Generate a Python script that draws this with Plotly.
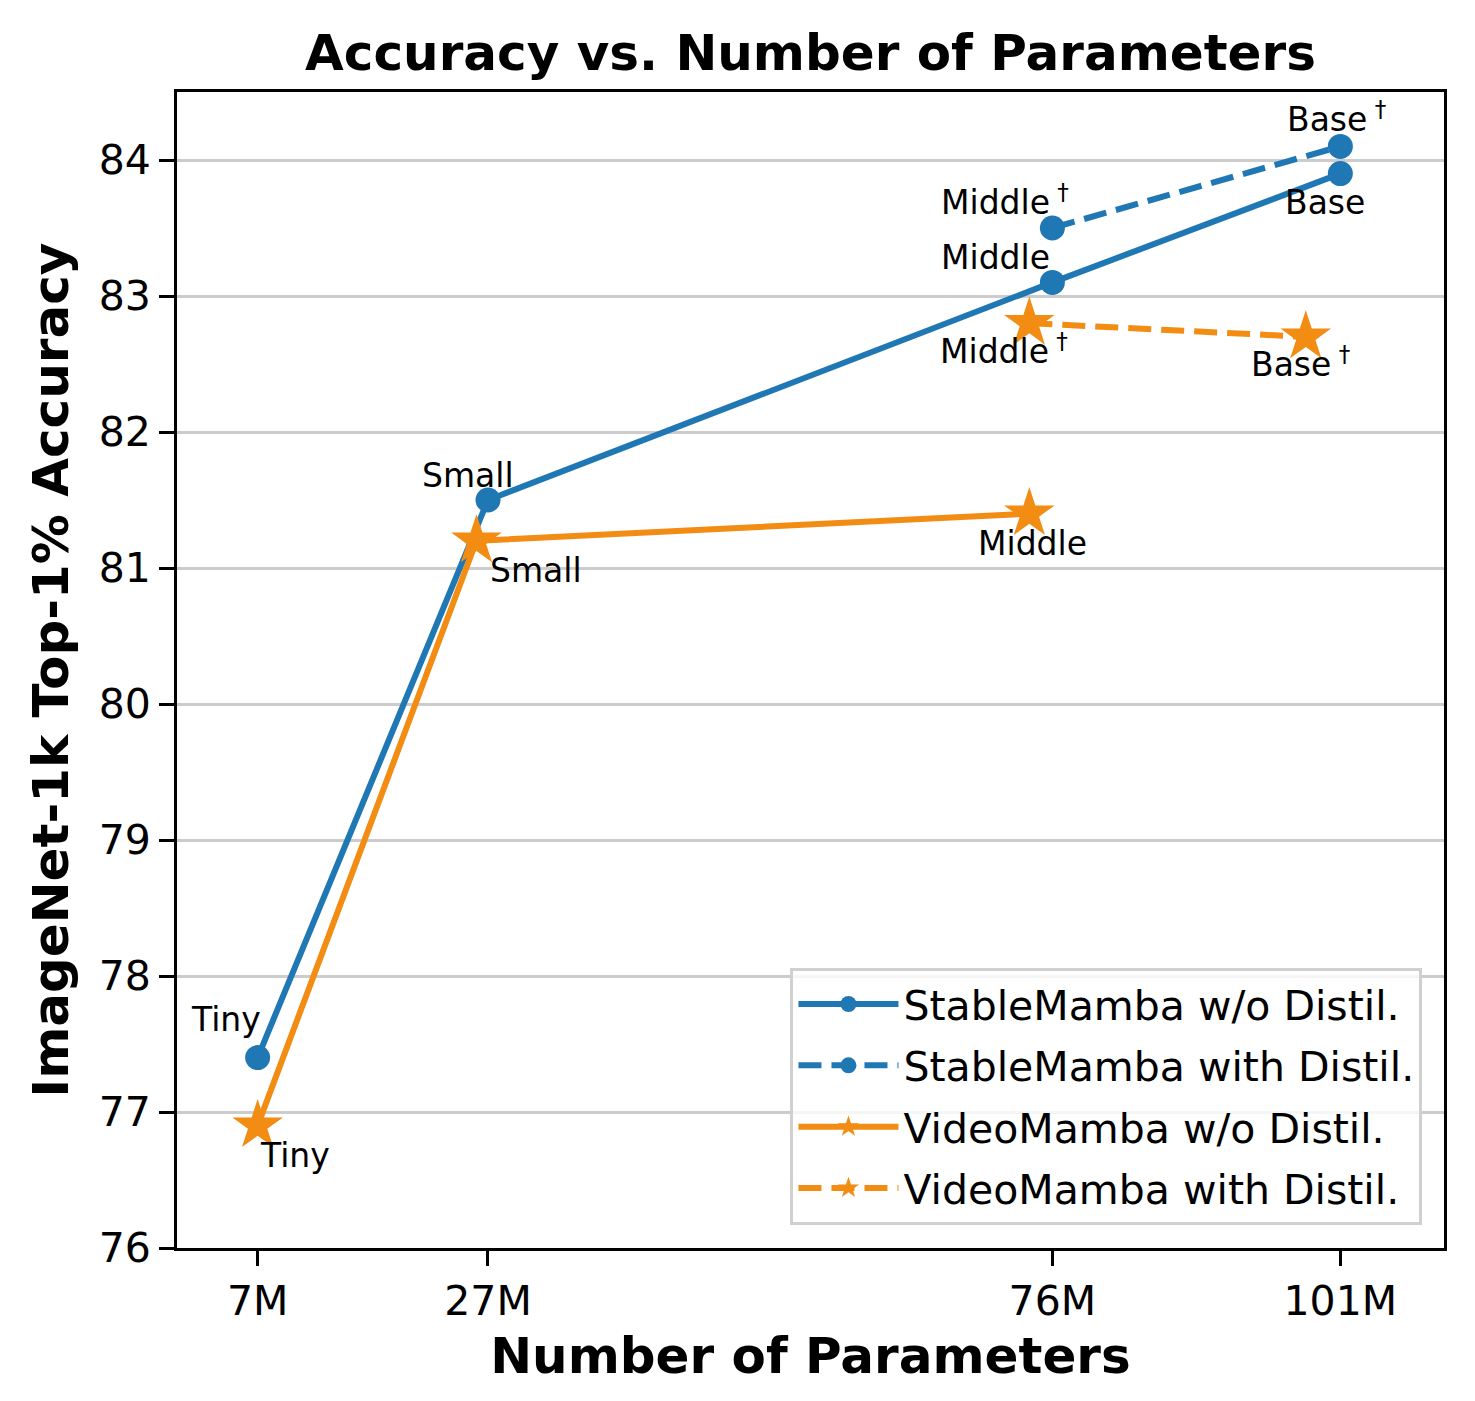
import plotly.graph_objects as go

BLUE = '#1f77b4'
ORANGE = '#F28C13'
FONT = 'DejaVu Sans'

# x axis ticks (parameter counts, in millions)
tick_params = [7, 27, 76, 101]
tick_labels = ['7M', '27M', '76M', '101M']

# StableMamba
stable_wo_x = [7, 27, 76, 101]
stable_wo_y = [77.4, 81.5, 83.1, 83.9]
stable_wo_names = ['Tiny', 'Small', 'Middle', 'Base']

stable_with_x = [76, 101]
stable_with_y = [83.5, 84.1]
stable_with_names = ['Middle<sup> †</sup>', 'Base<sup> †</sup>']

# VideoMamba
video_wo_x = [7, 26, 74]
video_wo_y = [76.9, 81.2, 81.4]
video_wo_names = ['Tiny', 'Small', 'Middle']

video_with_x = [74, 98]
video_with_y = [82.8, 82.7]
video_with_names = ['Middle<sup> †</sup>', 'Base<sup> †</sup>']

# label offsets in px (xshift, yshift) for every point
stable_wo_shift = [(-32, 38), (-20, 25), (-57, 25), (-15, -29)]
stable_with_shift = [(-47, 28), (-4, 29)]
video_wo_shift = [(37, -30), (60, -30), (3, -30)]
video_with_shift = [(-25, -26), (-5, -26)]

# the page body adds an 8px offset, so the figure is sized to compensate
W, H = 1467, 1393

fig = go.Figure()

series = [
    ('StableMamba w/o Distil.', stable_wo_x, stable_wo_y, BLUE, 'solid', 'circle', 25),
    ('StableMamba with Distil.', stable_with_x, stable_with_y, BLUE, '23px,10px', 'circle', 25),
    ('VideoMamba w/o Distil.', video_wo_x, video_wo_y, ORANGE, 'solid', 'star', 38),
    ('VideoMamba with Distil.', video_with_x, video_with_y, ORANGE, '23px,10px', 'star', 38),
]
for name, xs, ys, color, dash, symbol, size in series:
    fig.add_trace(go.Scatter(
        x=xs, y=ys, name=name, legendgroup=name, mode='lines+markers',
        line=dict(color=color, width=6, dash=dash),
        marker=dict(color=color, symbol=symbol, size=size, line=dict(width=0)),
    ))

labels = [
    (stable_wo_x, stable_wo_y, stable_wo_names, stable_wo_shift),
    (stable_with_x, stable_with_y, stable_with_names, stable_with_shift),
    (video_wo_x, video_wo_y, video_wo_names, video_wo_shift),
    (video_with_x, video_with_y, video_with_names, video_with_shift),
]
for xs, ys, names, shifts in labels:
    for x, y, txt, (dx, dy) in zip(xs, ys, names, shifts):
        fig.add_annotation(x=x, y=y, text=txt, showarrow=False,
                           xanchor='center', yanchor='middle',
                           xshift=dx, yshift=dy,
                           font=dict(family=FONT, size=33, color='black'))

fig.update_layout(
    width=W, height=H, autosize=False,
    margin=dict(l=169, r=31, t=84, b=153),
    plot_bgcolor='white', paper_bgcolor='white',
    font=dict(family=FONT, color='black'),
    title=dict(text='Accuracy vs. Number of Parameters', x=0.5, xref='paper',
               y=1 - 44 / H, yref='container', yanchor='middle', xanchor='center',
               font=dict(family=FONT, size=50, weight=700, color='black')),
    legend=dict(x=0.983, y=0.02, xanchor='right', yanchor='bottom',
                bgcolor='rgba(255,255,255,0.8)', bordercolor='#d0d0d0', borderwidth=3,
                itemwidth=100, tracegroupgap=5,
                font=dict(family=FONT, size=41, color='black')),
    showlegend=True,
)

fig.update_xaxes(
    range=[0, 110], tickmode='array', tickvals=tick_params, ticktext=tick_labels,
    showgrid=False, zeroline=False,
    showline=True, mirror=True, linecolor='black', linewidth=3,
    ticks='outside', ticklen=15, tickwidth=3, tickcolor='black',
    tickfont=dict(family=FONT, size=41, color='black'),
    title=dict(text='Number of Parameters', standoff=14,
               font=dict(family=FONT, size=50, weight=700, color='black')),
)
fig.update_yaxes(
    range=[76, 84.5], tickmode='array', tickvals=list(range(76, 85)),
    showgrid=True, gridcolor='#cccccc', gridwidth=3, zeroline=False,
    showline=True, mirror=True, linecolor='black', linewidth=3,
    ticks='outside', ticklen=15, tickwidth=3, tickcolor='black',
    tickfont=dict(family=FONT, size=41, color='black'),
    title=dict(text='ImageNet-1k Top-1% Accuracy', standoff=15,
               font=dict(family=FONT, size=50, weight=700, color='black')),
)

fig.write_html('out.html')
